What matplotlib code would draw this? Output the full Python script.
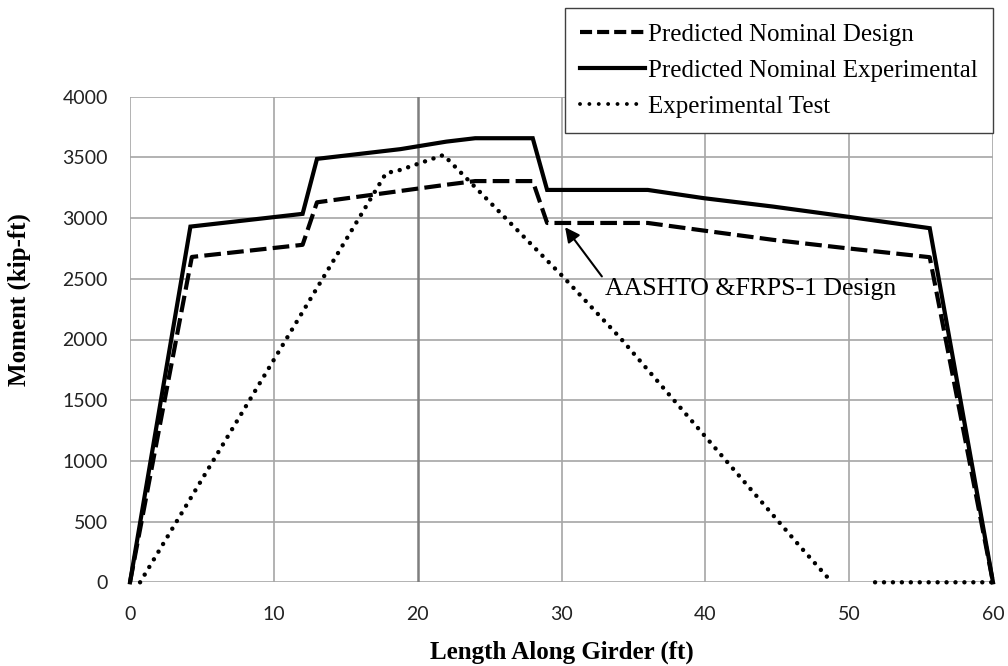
import matplotlib
matplotlib.use("Agg")
import matplotlib.pyplot as plt
from matplotlib.lines import Line2D
import numpy as np

# Moment envelopes along the girder (ft, kip-ft)
design_x = [0, 4.3, 12, 13, 22, 24, 28, 29, 36, 39.9, 44.7, 49.8, 55.6, 60]
design_y = [0, 2680, 2780, 3130, 3275, 3305, 3305, 2960, 2960, 2897, 2821, 2752, 2678, 0]

exper_x = [0, 4.2, 12, 13, 18.8, 22, 24, 28, 29, 36, 39.9, 44.7, 49.8, 55.6, 60]
exper_y = [0, 2930, 3035, 3488, 3568, 3630, 3658, 3658, 3232, 3232, 3164, 3095, 3013, 2917, 0]

# Measured test moments; NaN leaves the unrecorded stretch blank
test_x = [0.7, 17.8, 18.8, 21.8, 30.1, 34.1, 46.6, 48.8, np.nan, 51.8, 60]
test_y = [0, 3370, 3397, 3520, 2518, 2011, 293, 0, np.nan, 0, 0]

x_ticks = [0, 10, 20, 30, 40, 50, 60]
y_ticks = [0, 500, 1000, 1500, 2000, 2500, 3000, 3500, 4000]

W, H = 1008, 666
fig = plt.figure(figsize=(W / 100, H / 100), dpi=100)
ax = fig.add_axes([130 / W, 1 - 582.3 / H, 863 / W, (582.3 - 96.7) / H])

serif = "Liberation Serif"
tick_font = "Lato"

ax.set_xlim(0, 60)
ax.set_ylim(0, 4000)
ax.set_xticks(x_ticks)
ax.set_yticks(y_ticks)
ax.tick_params(length=0, labelsize=14, pad=16)
ax.tick_params(axis="x", pad=17)
for lab in ax.get_xticklabels() + ax.get_yticklabels():
    lab.set_fontfamily(tick_font)
    lab.set_color("#222222")

grid_c = "#a6a6a6"
for s in ax.spines.values():
    s.set_visible(False)
for yv in y_ticks:
    ax.axhline(yv, color=grid_c, lw=1.2, zorder=0)
for xv in x_ticks:
    if xv == 20:
        ax.axvline(xv, color="#7f7f7f", lw=1.8, zorder=0)
    else:
        ax.axvline(xv, color=grid_c, lw=1.2, zorder=0)

ax.plot(design_x, design_y, color="black", lw=3, dashes=(4, 1.5),
        dash_capstyle="butt", clip_on=False, zorder=3)
ax.plot(exper_x, exper_y, color="black", lw=3, solid_joinstyle="miter",
        clip_on=False, zorder=3)
ax.plot(test_x, test_y, color="black", lw=3.2, linestyle=(0, (0.01, 2.0)),
        dash_capstyle="round", clip_on=False, zorder=3)

ax.annotate("AASHTO &FRPS-1 Design", xy=(30.25, 2925), xytext=(33.0, 2367),
            fontsize=18.5, family=serif, ha="left", va="baseline",
            arrowprops=dict(arrowstyle="-|>", color="black", lw=1.5,
                            mutation_scale=22, shrinkA=0, shrinkB=0,
                            relpos=(0.0, 0.9)),
            zorder=4)

handles = [
    Line2D([], [], color="black", lw=3, dashes=(2.9, 1.2), dash_capstyle="butt"),
    Line2D([], [], color="black", lw=3),
    Line2D([], [], color="black", lw=2.8, linestyle=(0, (0.01, 2.4)),
           dash_capstyle="round"),
]
labels = ["Predicted Nominal Design", "Predicted Nominal Experimental",
          "Experimental Test"]
leg = ax.legend(handles, labels, loc="upper right",
                bbox_to_anchor=(993 / W, 1 - 8 / H), bbox_transform=fig.transFigure,
                prop={"family": serif, "size": 18}, handlelength=2.6,
                handletextpad=0.12, labelspacing=0.55, borderpad=0.6,
                borderaxespad=0, frameon=True, fancybox=False, framealpha=1)
leg.get_frame().set_edgecolor("#404040")
leg.get_frame().set_linewidth(1.0)
leg.set_zorder(5)

fig.text(561.5 / W, 1 - 659 / H, "Length Along Girder (ft)", family=serif,
         weight="bold", fontsize=18, ha="center", va="baseline")
fig.text(19 / W, 1 - 300 / H, "Moment (kip-ft)", family=serif, weight="bold",
         fontsize=18, rotation=90, ha="center", va="center")

fig.savefig("out.png", dpi=100)
